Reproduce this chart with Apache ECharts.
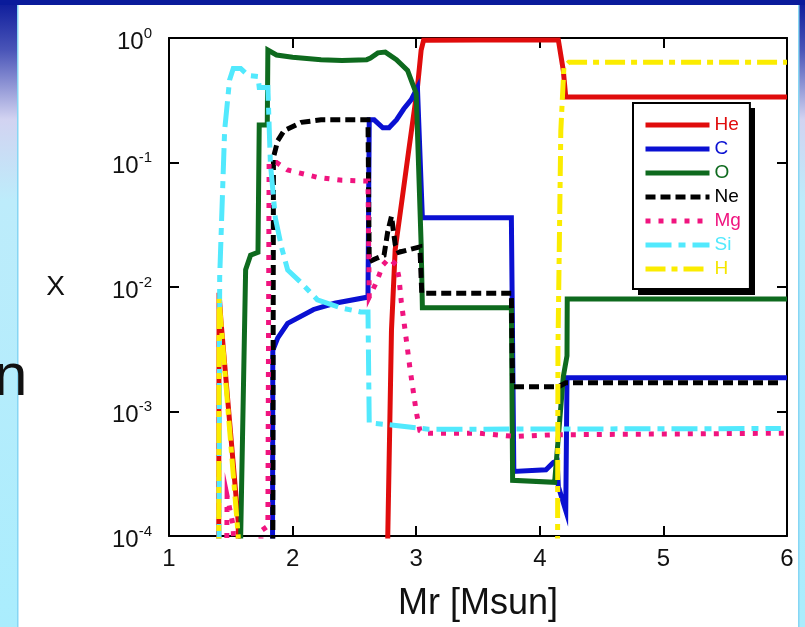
<!DOCTYPE html>
<html><head><meta charset="utf-8">
<script src="https://cdn.jsdelivr.net/npm/echarts@6/dist/echarts.min.js"></script>
<style>html,body{margin:0;padding:0;background:#fff;}#c{width:805px;height:627px;}</style>
</head><body><div id="c"></div>
<script>
// ---- data (mass coordinate Mr [Msun], mass fraction X) ----
const LOW = 1e-6; // below the plotted range (clipped)
const heX = [1.400, 1.405, 1.420, 1.560, 1.570, 2.760, 2.770, 2.800, 2.830, 2.885, 2.940, 3.010, 3.040, 3.060, 3.500, 4.150, 4.190, 4.210, 6.000];
const heY = [LOW, 0.009, 0.0054, 0.00013, LOW, LOW, 0.0001, 0.0045, 0.02, 0.05, 0.126, 0.40, 0.80, 0.96, 0.965, 0.965, 0.55, 0.336, 0.336];

const cX = [1.835, 1.840, 1.880, 1.960, 2.170, 2.340, 2.610, 2.620, 2.660, 2.730, 2.780, 2.840, 2.900, 2.960, 3.010, 3.050, 3.770, 3.790, 4.050, 4.110, 4.140, 4.150, 4.210, 4.220, 6.000];
const cY = [LOW, 0.0031, 0.0039, 0.0051, 0.0066, 0.0074, 0.0083, 0.22, 0.22, 0.19, 0.19, 0.22, 0.27, 0.32, 0.40, 0.036, 0.036, 0.00033, 0.00034, 0.00039, 0.00040, 0.00025, 0.00016, 0.00187, 0.00187];

const oX = [1.575, 1.580, 1.620, 1.660, 1.720, 1.730, 1.795, 1.800, 1.870, 2.000, 2.230, 2.400, 2.600, 2.630, 2.690, 2.750, 2.840, 2.930, 2.970, 3.000, 3.040, 3.050, 3.770, 3.780, 4.120, 4.190, 4.220, 4.222, 6.000];
const oY = [LOW, 0.0001, 0.0138, 0.018, 0.019, 0.20, 0.20, 0.80, 0.73, 0.70, 0.67, 0.66, 0.67, 0.69, 0.76, 0.77, 0.67, 0.55, 0.43, 0.36, 0.022, 0.0068, 0.0068, 0.00028, 0.00027, 0.0019, 0.0028, 0.0080, 0.0080];

const neX = [1.835, 1.840, 1.845, 1.880, 1.930, 2.070, 2.230, 2.610, 2.620, 2.680, 2.740, 2.770, 2.800, 2.830, 2.860, 3.030, 3.045, 3.770, 3.780, 4.150, 4.210, 5.950];
const neY = [LOW, 0.0001, 0.11, 0.15, 0.18, 0.21, 0.22, 0.22, 0.016, 0.017, 0.018, 0.028, 0.037, 0.022, 0.019, 0.021, 0.0089, 0.0089, 0.00158, 0.00158, 0.0017, 0.0017];

const mgX = [1.455, 1.470, 1.520, 1.530, 1.720, 1.745, 1.800, 1.810, 1.870, 1.960, 2.200, 2.400, 2.610, 2.620, 2.680, 2.730, 2.780, 2.840, 2.860, 2.880, 2.910, 2.950, 3.000, 3.030, 3.060, 3.500, 3.800, 4.100, 6.000];
const mgY = [LOW, 0.00021, 0.00012, LOW, LOW, 0.00011, 0.00012, 0.10, 0.10, 0.087, 0.076, 0.072, 0.071, 0.0083, 0.011, 0.015, 0.017, 0.015, 0.012, 0.0075, 0.0045, 0.0022, 0.0010, 0.0007, 0.00067, 0.00067, 0.00063, 0.00065, 0.00067];

const siX = [1.400, 1.405, 1.410, 1.450, 1.490, 1.520, 1.580, 1.640, 1.720, 1.730, 1.800, 1.820, 1.860, 1.910, 1.960, 2.070, 2.200, 2.390, 2.550, 2.610, 2.620, 2.800, 3.100, 5.950];
const siY = [LOW, 0.0001, 0.012, 0.18, 0.46, 0.57, 0.57, 0.50, 0.49, 0.40, 0.40, 0.10, 0.036, 0.021, 0.0137, 0.0108, 0.0079, 0.0068, 0.0063, 0.0063, 0.00081, 0.00078, 0.00072, 0.00073];

const hX = [1.400, 1.405, 1.420, 1.560, 1.565, 4.140, 4.147, 4.170, 4.195, 4.236, 6.000];
const hY = [LOW, 0.008, 0.0083, 0.0001, LOW, LOW, 0.0033, 0.18, 0.58, 0.64, 0.64];

const names  = ['He', 'C', 'O', 'Ne', 'Mg', 'Si', 'H'];
const xsets  = [heX, cX, oX, neX, mgX, siX, hX];
const ysets  = [heY, cY, oY, neY, mgY, siY, hY];
const colors = ['#e00c0c', '#0a10d2', '#0e6a1e', '#000000', '#f0147f', '#52e9fd', '#fbec00'];
const dashes = ['solid', 'solid', 'solid', [10, 5], [5, 8], [26, 7, 7, 7], [20, 6, 6, 6]];

const xMin = 1, xMax = 6, xStep = 1;
const yMin = 1e-4, yMax = 1;

const FONT = 'Liberation Sans';
const chart = echarts.init(document.getElementById('c'), null, {renderer: 'canvas'});

const stripGrad = () => new echarts.graphic.LinearGradient(0, 0, 0, 1, [
  {offset: 0, color: '#0b1a9a'},
  {offset: 0.08, color: '#4a55b8'},
  {offset: 0.19, color: '#d2d3f1'},
  {offset: 0.32, color: '#bdecfb'},
  {offset: 1, color: '#aaedfd'}
]);

const series = names.map((n, i) => ({
  name: n,
  type: 'line',
  data: xsets[i].map((x, j) => [x, ysets[i][j]]),
  symbol: 'none',
  showSymbol: false,
  clip: true,
  z: 2 + i,
  xAxisIndex: 0,
  yAxisIndex: 0,
  itemStyle: {color: colors[i]},
  lineStyle: {color: colors[i], width: 5, type: dashes[i], cap: 'butt', join: 'miter'},
  animation: false
}));

const axisCommon = {
  axisLine: {show: true, onZero: false, lineStyle: {color: '#000', width: 2}},
  axisTick: {show: true, inside: true, length: 10, lineStyle: {color: '#000', width: 2}},
  splitLine: {show: false},
  minorTick: {show: false}
};

chart.setOption({
  backgroundColor: '#ffffff',
  animation: false,
  graphic: [
    {type: 'rect', shape: {x: 0, y: 0, width: 17, height: 627}, style: {fill: stripGrad()}, z: -10, silent: true},
    {type: 'rect', shape: {x: 17, y: 0, width: 1.5, height: 627}, style: {fill: '#86d6f4'}, z: -10, silent: true},
    {type: 'rect', shape: {x: 799, y: 0, width: 6, height: 627}, style: {fill: stripGrad()}, z: -10, silent: true},
    {type: 'rect', shape: {x: 798, y: 0, width: 1.5, height: 627}, style: {fill: '#86d6f4'}, z: -10, silent: true},
    {type: 'rect', shape: {x: 0, y: 0, width: 805, height: 5}, style: {fill: '#0a1b9b'}, z: -9, silent: true},
    {type: 'rect', shape: {x: 638, y: 108, width: 117, height: 187}, style: {fill: '#000'}, z: 9, silent: true},
    {type: 'text', left: -6, top: 348, style: {text: 'n', font: '60px "' + FONT + '"', fill: '#111'}, z: 50, silent: true}
  ],
  grid: {left: 169, right: 18, top: 38, bottom: 91, containLabel: false},
  legend: {
    show: true,
    orient: 'vertical',
    left: 633,
    top: 103,
    z: 10,
    padding: [12, 9, 10, 10],
    itemWidth: 64,
    itemHeight: 14,
    itemGap: 4,
    selectedMode: false,
    backgroundColor: '#ffffff',
    borderColor: '#000',
    borderWidth: 2,
    borderRadius: 0,
    itemStyle: {opacity: 0, color: 'rgba(0,0,0,0)', borderWidth: 0},
    lineStyle: {width: 5},
    textStyle: {fontFamily: FONT, fontSize: 19, lineHeight: 20},
    data: names.map((n, i) => ({name: n, textStyle: {fontFamily: FONT, fontSize: 19, color: colors[i] === '#fbec00' ? '#f5e600' : colors[i]}}))
  },
  xAxis: [
    Object.assign({}, axisCommon, {
      type: 'value', min: xMin, max: xMax, interval: xStep, position: 'bottom',
      name: 'Mr [Msun]', nameLocation: 'middle', nameGap: 50,
      nameTextStyle: {fontFamily: FONT, fontSize: 36, color: '#111'},
      axisLabel: {show: true, margin: 11, fontFamily: FONT, fontSize: 24, color: '#111'}
    }),
    Object.assign({}, axisCommon, {
      type: 'value', min: xMin, max: xMax, interval: xStep, position: 'top',
      axisLabel: {show: false}
    })
  ],
  yAxis: [
    Object.assign({}, axisCommon, {
      type: 'log', logBase: 10, min: yMin, max: yMax, position: 'left',
      name: 'X', nameLocation: 'middle', nameRotate: 0, nameGap: 104,
      nameTextStyle: {fontFamily: FONT, fontSize: 28, color: '#111'},
      axisLabel: {
        show: true, margin: 17,
        formatter: v => '{b|10}{s|' + Math.round(Math.log10(v)) + '}',
        rich: {
          b: {fontFamily: FONT, fontSize: 24, lineHeight: 24, padding: [8, 0, 0, 0], color: '#111'},
          s: {fontFamily: FONT, fontSize: 15, verticalAlign: 'top', color: '#111'}
        }
      }
    }),
    Object.assign({}, axisCommon, {
      type: 'log', logBase: 10, min: yMin, max: yMax, position: 'right',
      axisLabel: {show: false}
    })
  ],
  series: series
});
</script>
</body></html>
